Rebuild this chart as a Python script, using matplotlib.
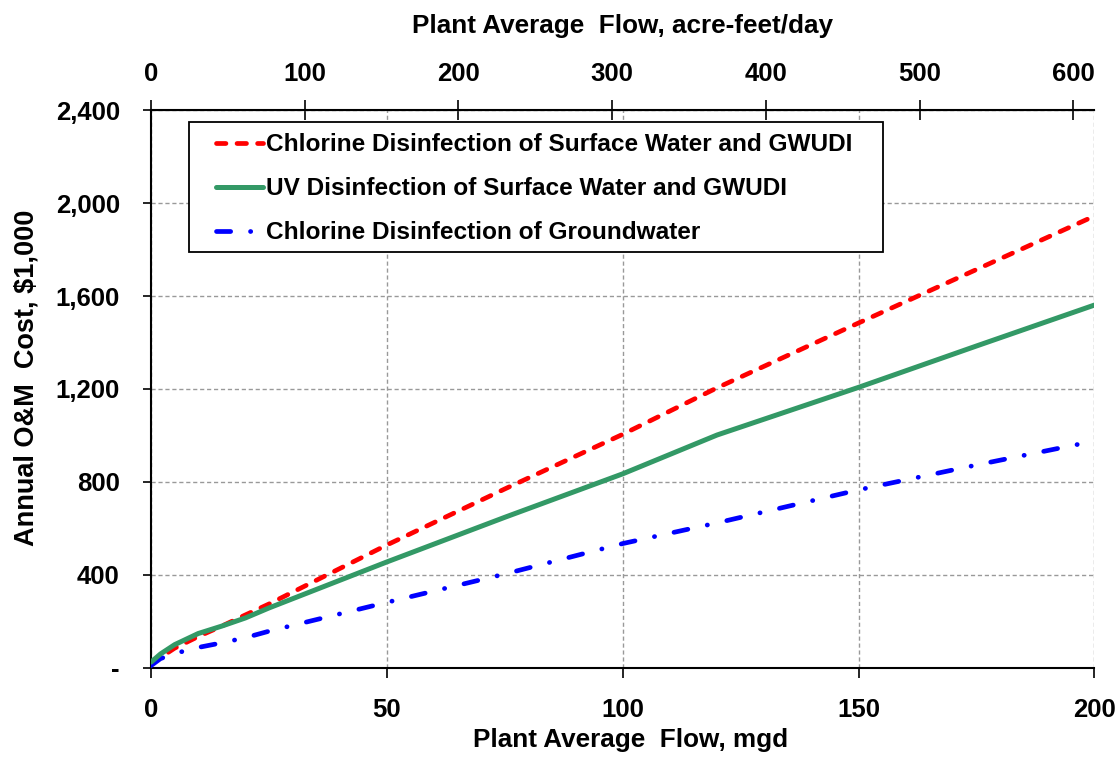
import matplotlib
matplotlib.use("Agg")
import matplotlib.pyplot as plt
from matplotlib.patches import Rectangle

plt.rcParams['font.family'] = ['Liberation Sans', 'DejaVu Sans']
plt.rcParams['font.weight'] = 'bold'

# plant average flow, mgd
flow_mgd = [0, 2, 5, 10, 15, 20, 25, 50, 75, 100, 120, 150, 175, 200]
# annual O&M cost, $1,000
chlorine_sw = [20, 45, 85, 135, 180, 228, 275, 529, 770, 1005, 1205, 1484, 1714, 1944]
uv_sw = [25, 60, 100, 148, 180, 215, 258, 456, 648, 835, 1002, 1207, 1385, 1561]
chlorine_gw = [10, 40, 62, 88, 108, 130, 158, 282, 404, 535, 624, 766, 873, 976]

series_labels = ['Chlorine Disinfection of Surface Water and GWUDI',
                 'UV Disinfection of Surface Water and GWUDI',
                 'Chlorine Disinfection of Groundwater']

x_ticks = [0, 50, 100, 150, 200]
y_ticks = [0, 400, 800, 1200, 1600, 2000, 2400]
y_tick_labels = ['-', '400', '800', '1,200', '1,600', '2,000', '2,400']
top_ticks = [0, 100, 200, 300, 400, 500, 600]
AF_PER_MGD = 3.0689  # acre-feet/day per mgd

fig = plt.figure(figsize=(11.19, 7.59), dpi=100)
ax = fig.add_axes([0.135, 0.120, 0.843, 0.735])

ax.plot(flow_mgd, chlorine_sw, color='#ff0000', lw=3.4, dashes=(2.0, 2.35),
        dash_capstyle='round', label=series_labels[0], zorder=3)
ax.plot(flow_mgd, uv_sw, color='#339966', lw=3.6, solid_capstyle='round',
        label=series_labels[1], zorder=4)
ax.plot(flow_mgd, chlorine_gw, color='#0000ff', lw=3.4, dashes=(3.0, 4.2, 0.05, 4.2),
        dash_capstyle='round', label=series_labels[2], zorder=3)

ax.set_xlim(0, 200)
ax.set_ylim(0, 2400)
ax.set_xticks(x_ticks)
ax.set_yticks(y_ticks)
ax.set_yticklabels(y_tick_labels)
ax.tick_params(axis='both', labelsize=18.5, direction='out', width=1.2)
ax.tick_params(axis='y', length=6, pad=16.5)
ax.tick_params(axis='x', length=7, pad=15)
ax.grid(True, color='#999999', linestyle=(0, (3, 2)), linewidth=1)
ax.spines['right'].set_visible(False)
for s in ['left', 'bottom', 'top']:
    ax.spines[s].set_linewidth(1.5)

ax.set_xlabel('Plant Average  Flow, mgd', fontsize=18.8, fontweight='bold')
ax.xaxis.set_label_coords(0.508, -0.107)
ax.set_ylabel('Annual O&M  Cost, \\$1,000', fontsize=19.5, fontweight='bold')
ax.yaxis.set_label_coords(-0.118, 0.52)

top = ax.secondary_xaxis('top', functions=(lambda x: x * AF_PER_MGD,
                                           lambda x: x / AF_PER_MGD))
top.set_xticks(top_ticks)
top.tick_params(labelsize=18.5, direction='inout', length=15, width=1.2, pad=10)
top.set_xlabel('Plant Average  Flow, acre-feet/day', fontsize=18.8, fontweight='bold',
               labelpad=21)

# legend box drawn separately so its padding matches the reference
ax.add_patch(Rectangle((0.0403, 0.7455), 0.7359, 0.233, transform=ax.transAxes,
                       facecolor='white', edgecolor='black', lw=1.3, zorder=5))
leg = ax.legend(loc='upper left', bbox_to_anchor=(0.069, 0.9585), fontsize=17.6,
                frameon=False, borderaxespad=0, borderpad=0, handlelength=1.9,
                handletextpad=0.15, labelspacing=0.86)
leg.set_zorder(6)

fig.savefig('out.png', dpi=100)
